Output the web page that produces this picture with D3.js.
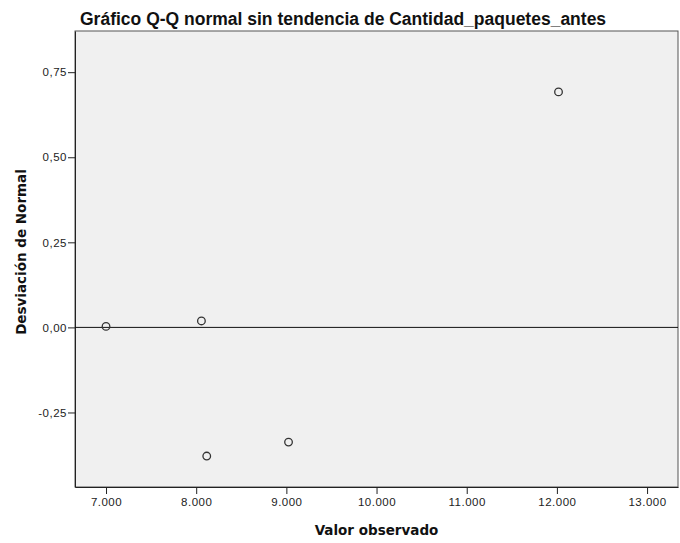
<!DOCTYPE html>
<html>
<head>
<meta charset="utf-8">
<script src="https://cdnjs.cloudflare.com/ajax/libs/d3/7.8.5/d3.min.js"></script>
<style>
body { margin: 0; background: #fff; }
svg text { font-family: Arial, "Liberation Sans", sans-serif; }
</style>
</head>
<body>
<script>
// observed values and their deviation from normal
const observed = [7000, 8058, 8117, 9024, 12018]
const deviation = [0.003, 0.019, -0.378, -0.337, 0.692]
const xTicks = [7000, 8000, 9000, 10000, 11000, 12000, 13000]
const yTicks = [-0.25, 0, 0.25, 0.5, 0.75]

const width = 680, height = 543
const margin = {top: 31, right: 2, bottom: 56, left: 75}

const es = d3.formatLocale({decimal: ",", thousands: ".", grouping: [3], currency: ["", "€"], minus: "-"})

const svg = d3.select("body").append("svg")
    .attr("width", width)
    .attr("height", height)

const xScale = d3.scaleLinear()
    .domain([6656, 13343])
    .range([margin.left, width - margin.right])
const yScale = d3.scaleLinear()
    .domain([-0.469, 0.871])
    .range([height - margin.bottom, margin.top])

// plot background
svg.append("rect")
    .attr("x", margin.left)
    .attr("y", margin.top)
    .attr("width", width - margin.left - margin.right)
    .attr("height", height - margin.top - margin.bottom)
    .attr("fill", "#f0f0f0")
    .attr("stroke", "#555")
    .attr("stroke-width", 1)

const xAxis = svg.append("g")
    .attr("transform", "translate(0," + (height - margin.bottom) + ")")
    .call(d3.axisBottom(xScale).tickValues(xTicks).tickSize(7).tickSizeOuter(0).tickFormat(es.format(",.0f")))
const yAxis = svg.append("g")
    .attr("transform", "translate(" + margin.left + ",0)")
    .call(d3.axisLeft(yScale).tickValues(yTicks).tickSize(7).tickSizeOuter(0).tickFormat(es.format(".2f")))

xAxis.select(".domain").attr("stroke", "#222")
yAxis.select(".domain").attr("stroke", "#222")
xAxis.selectAll(".tick line").attr("stroke", "#222")
yAxis.selectAll(".tick line").attr("stroke", "#222")
xAxis.selectAll("text").attr("font-size", 11.5).attr("letter-spacing", 0.5)
    .attr("fill", "#222").attr("y", 11)
yAxis.selectAll("text").attr("font-size", 11.5).attr("letter-spacing", 0.5)
    .attr("fill", "#222").attr("x", -8)

// reference line at zero
svg.append("line")
    .attr("x1", margin.left)
    .attr("x2", width - margin.right)
    .attr("y1", yScale(0))
    .attr("y2", yScale(0))
    .attr("stroke", "#111")
    .attr("stroke-width", 1)

svg.selectAll(".pt")
    .data(observed)
    .enter()
    .append("circle")
    .attr("class", "pt")
    .attr("cx", function(d) { return xScale(d) })
    .attr("cy", function(d, i) { return yScale(deviation[i]) })
    .attr("r", 3.8)
    .attr("fill", "none")
    .attr("stroke", "#333")
    .attr("stroke-width", 1.3)

svg.append("text")
    .attr("x", 80)
    .attr("y", 25)
    .attr("font-size", 17.5)
    .attr("font-weight", "bold")
    .attr("fill", "#111")
    .text("Gráfico Q-Q normal sin tendencia de Cantidad_paquetes_antes")

svg.append("text")
    .attr("x", (margin.left + width - margin.right) / 2)
    .attr("y", 535)
    .attr("text-anchor", "middle")
    .style("font-family", "'DejaVu Sans', sans-serif")
    .attr("font-size", 13.5)
    .attr("font-weight", "bold")
    .attr("fill", "#111")
    .text("Valor observado")

svg.append("text")
    .attr("transform", "translate(26,252) rotate(-90)")
    .attr("text-anchor", "middle")
    .style("font-family", "'DejaVu Sans', sans-serif")
    .attr("font-size", 13.5)
    .attr("font-weight", "bold")
    .attr("fill", "#111")
    .text("Desviación de Normal")
</script>
</body>
</html>
